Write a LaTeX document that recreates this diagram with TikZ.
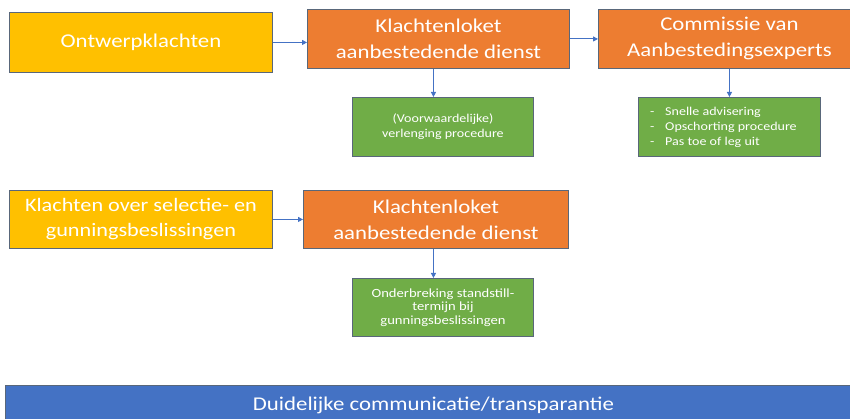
\documentclass[tikz,border=0pt]{standalone}
\usepackage{fontspec}
\setmainfont{Carlito}[FakeStretch=1.17]
\usetikzlibrary{arrows.meta,calc}
\definecolor{cyellow}{HTML}{FFC000}
\definecolor{corange}{HTML}{ED7D31}
\definecolor{cgreen}{HTML}{70AD47}
\definecolor{cblue}{HTML}{4472C4}
\definecolor{cborder}{HTML}{59677A}
\definecolor{carrow}{HTML}{4472C4}
\tikzset{
  box/.style={draw=cborder,line width=0.9pt,text=white,inner sep=0pt,align=center,anchor=north west},
  big/.style={font=\fontsize{19.5}{26}\selectfont},
  small/.style={font=\fontsize{12}{15}\selectfont},
  conn/.style={draw=carrow,line width=0.9pt,-{Triangle[length=5pt,width=5pt]}}
}
\begin{document}
\begin{tikzpicture}[x=1pt,y=-1pt]
\useasboundingbox (0,0) rectangle (850,419);
% row 1
\node[box,big,fill=cyellow,minimum width=263pt,minimum height=60pt] (y1) at (9,12) {Ontwerpklachten};
\node[box,big,fill=corange,minimum width=262pt,minimum height=59pt] (o1) at (307,9) {Klachtenloket\\aanbestedende dienst};
\begin{scope}
\clip (0,0) rectangle (850,419);
\node[box,big,fill=corange,minimum width=262pt,minimum height=59pt] (o2) at (598,9) {Commissie van\\Aanbestedingsexperts};
\end{scope}
\node[box,small,fill=cgreen,minimum width=181pt,minimum height=59pt] (g1) at (352,97) {(Voorwaardelijke)\\verlenging procedure};
\node[box,small,fill=cgreen,minimum width=182pt,minimum height=59pt,align=left] (g2) at (638,97) {};
\node[small,text=white,anchor=west,align=left,inner sep=0pt] (g2t) at ($(g2.west)+(12,0)$)
  {\makebox[15pt][l]{-}Snelle advisering\\\makebox[15pt][l]{-}Opschorting procedure\\\makebox[15pt][l]{-}Pas toe of leg uit};
% row 2
\node[box,fill=cyellow,minimum width=263pt,minimum height=58pt,font=\fontsize{19}{25}\selectfont] (y2) at (9,190) {Klachten over selectie- en\\gunningsbeslissingen};
\node[box,big,fill=corange,minimum width=265pt,minimum height=58pt] (o3) at (303,190) {Klachtenloket\\aanbestedende dienst};
\node[box,fill=cgreen,minimum width=181pt,minimum height=58pt,font=\fontsize{12.5}{13.5}\selectfont] (g3) at (352,278) {Onderbreking standstill-\\termijn bij\\gunningsbeslissingen};
% bottom bar
\begin{scope}
\clip (0,0) rectangle (850,419);
\node[box,fill=cblue,minimum width=856pt,minimum height=40pt,font=\fontsize{19.5}{22}\selectfont] (bar) at (5,385) {Duidelijke communicatie/transparantie};
\end{scope}
% connectors
\draw[conn] (y1.east) -- (y1.east -| o1.west);
\draw[conn] (o1.east) -- (o1.east -| o2.west);
\draw[conn] (y2.east) -- (o3.west);
\coordinate (a1) at ($(o1.south)+(-5,0)$);
\draw[conn] (a1) -- (a1 |- g1.north);
\draw[conn] (o2.south) -- (o2.south |- g2.north);
\coordinate (a3) at ($(o3.south)+(-2.5,0)$);
\draw[conn] (a3) -- (a3 |- g3.north);
\end{tikzpicture}
\end{document}
